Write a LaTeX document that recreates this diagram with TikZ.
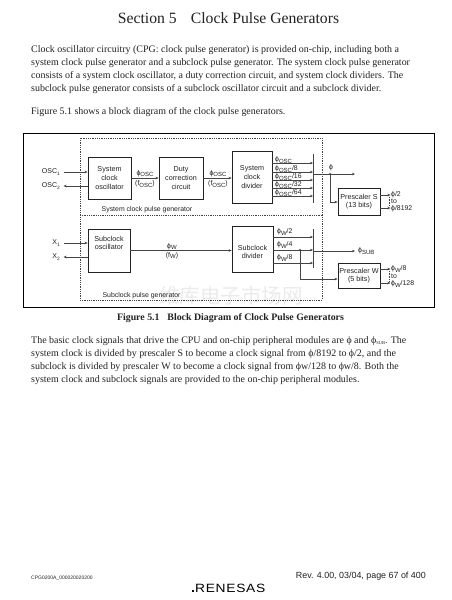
\documentclass[tikz,border=0pt]{standalone}
\usepackage{fontspec}
\setmainfont{Liberation Serif}
\setsansfont{Liberation Sans}
\newfontfamily\wmfont{Noto Sans CJK SC}
\usepackage{xcolor}
\usetikzlibrary{arrows.meta,positioning,calc}
\definecolor{ink}{HTML}{222222}
\definecolor{wire}{HTML}{444444}
\definecolor{wmark}{HTML}{EBEBEB}
\newcommand{\sbs}[1]{\raisebox{-0.5ex}{\fontsize{6}{7}\selectfont #1}}
\tikzset{
  blk/.style={draw=ink, line width=0.8pt, font=\sffamily\fontsize{7.2}{8.7}\selectfont, text=ink, align=center, inner sep=0pt},
  sig/.style={wire, line width=0.8pt, -{Stealth[length=3pt,width=2.6pt]}},
  lbl/.style={font=\sffamily\fontsize{6.9}{8}\selectfont, text=ink, inner sep=0pt},
  pin/.style={font=\sffamily\fontsize{7}{8}\selectfont, text=ink, inner sep=0pt},
  para/.style={font=\rmfamily\fontsize{9.95}{13}\selectfont, text=ink, inner sep=0pt, anchor=base west},
  guard/.style={densely dotted, line width=0.8pt, wire}
}
\begin{document}
\begin{tikzpicture}[x=1pt,y=-1pt]
  \useasboundingbox (0,0) rectangle (452,600);
  \fill[white] (0,0) rectangle (452,600);

  % Page text
  \node[font=\rmfamily\fontsize{15.7}{18}\selectfont, text=ink, inner sep=0pt] (title) at (228.5,18) {Section 5\hspace{0.9em}Clock Pulse Generators};
  \node[para] (intra) at (31,52.5) {Clock oscillator circuitry (CPG: clock pulse generator) is provided on-chip, including both a};
  \node[para] (intrb) at (31,65.5) {system clock pulse generator and a subclock pulse generator. The system clock pulse generator};
  \node[para] (intrc) at (31,78.5) {consists of a system clock oscillator, a duty correction circuit, and system clock dividers. The};
  \node[para] (intrd) at (31,91.5) {subclock pulse generator consists of a subclock oscillator circuit and a subclock divider.};
  \node[para] (intre) at (31,114.5) {Figure 5.1 shows a block diagram of the clock pulse generators.};

  % Frame and watermark
  \draw[black, line width=0.8pt] (23.5,133) rectangle (434,307);
  \node[font=\wmfont\fontsize{20.5}{21}\selectfont, text=wmark, inner sep=0pt] (wmark) at (231,296) {维库电子市场网};

  % Guard outlines
  \draw[guard] (80,138) rectangle (322,300);
  \draw[guard] (80,215) -- (322,215);
  \node[lbl] (sysgen) at (147,209.5) {System clock pulse generator};
  \node[lbl] (subgen) at (141.5,295.5) {Subclock pulse generator};

  % Blocks
  \node[blk, minimum width=43pt, minimum height=42pt] (sysosc) at (109.5,178) {System\\clock\\oscillator};
  \node[blk, minimum width=44pt, minimum height=42pt] (duty) at (181,178) {Duty\\correction\\circuit};
  \node[blk, minimum width=40pt, minimum height=52pt] (sysdiv) at (252,177) {System\\clock\\divider};
  \node[blk, minimum width=42pt, minimum height=43pt] (subosc) at (109,250.5) {};
  \node[blk, draw=none] (subosctxt) at (109,243) {Subclock\\oscillator};
  \node[blk, minimum width=41pt, minimum height=46pt] (subdiv) at (252.5,249) {};
  \node[blk, draw=none] (subdivtxt) at (252.5,252) {Subclock\\divider};
  \node[blk, minimum width=42pt, minimum height=27pt] (pres) at (359,201.5) {Prescaler S\\(13 bits)};
  \node[blk, minimum width=42pt, minimum height=25pt] (prew) at (359,275.5) {Prescaler W\\(5 bits)};

  % Inputs
  \node[pin, anchor=east] (oscone) at (60,172) {OSC\raisebox{-0.4ex}{\fontsize{4.8}{5}\selectfont 1}};
  \node[pin, anchor=east] (osctwo) at (60,186) {OSC\raisebox{-0.4ex}{\fontsize{4.8}{5}\selectfont 2}};
  \node[pin, anchor=east] (xone) at (60,243) {X\raisebox{-0.4ex}{\fontsize{4.8}{5}\selectfont 1}};
  \node[pin, anchor=east] (xtwo) at (60,257) {X\raisebox{-0.4ex}{\fontsize{4.8}{5}\selectfont 2}};
  \draw[sig] (oscone.east) ++(4,0) -- (oscone.east -| sysosc.west);
  \draw[sig] (osctwo.east -| sysosc.west) -- ++(-24,0);
  \draw[sig] (xone.east) ++(4,0) -- (xone.east -| subosc.west);
  \draw[sig] (xtwo.east -| subosc.west) -- ++(-24,0);

  % Chain
  \draw[sig] (sysosc.east) -- (duty.west);
  \draw[sig] (duty.east) -- (duty.east -| sysdiv.west);
  \draw[sig] (subosc.east) -- (subosc.east -| subdiv.west);
  \node[lbl] (phia) at (145,173.5) {ϕ\sbs{OSC}};
  \node[lbl] (fa) at (145,184) {(f\sbs{OSC})};
  \node[lbl] (phib) at (218,173.5) {ϕ\sbs{OSC}};
  \node[lbl] (fb) at (218,184) {(f\sbs{OSC})};
  \node[lbl] (phic) at (172,246.5) {ϕ\sbs{W}};
  \node[lbl] (fc) at (172,255.5) {(f\sbs{W})};

  % Bars
  \coordinate (bartop) at (313,154);
  \coordinate (barbot) at (313,203);
  \coordinate (bartopw) at (313,229);
  \coordinate (barbotw) at (313,268);
  \draw[wire, line width=0.9pt] (bartop) -- (barbot);
  \draw[wire, line width=0.9pt] (bartopw) -- (barbotw);

  % Divider outputs
  \foreach \yy/\nm/\txt in {163/a/,172/b/{/8},180/c/{/16},188/d/{/32},196/e/{/64}}{
    \coordinate (tap\nm) at (313,\yy);
    \draw[sig] (sysdiv.east |- tap\nm) -- (tap\nm);
    \node[lbl, anchor=south west] (sl\nm) at (275,\yy+1) {ϕ\sbs{OSC}\txt};
  }
  \foreach \yy/\nm/\txt in {237/a/{/2},250/b/{/4},263/c/{/8}}{
    \coordinate (wap\nm) at (313,\yy);
    \draw[sig] (subdiv.east |- wap\nm) -- (wap\nm);
    \node[lbl, anchor=south west] (wl\nm) at (277,\yy-1) {ϕ\sbs{W}\txt};
  }

  % Clock outputs
  \coordinate (phiend) at (355,174);
  \coordinate (subend) at (355,251);
  \coordinate (branchs) at (330,174);
  \coordinate (branchw) at (300,250);
  \draw[sig] (bartop |- phiend) -- (phiend);
  \draw[sig] (bartop |- subend) -- (subend);
  \draw[sig] (branchs) |- (pres.west |- 0,202);
  \draw[sig] (branchw) |- (prew.west |- 0,279);
  \fill[wire] (branchs) circle (1.1pt);
  \fill[wire] (branchw) circle (1.1pt);
  \node[lbl, anchor=west] (phiout) at (329,168) {ϕ};
  \node[lbl, anchor=west] (subout) at (358,251) {ϕ\sbs{SUB}};

  % Prescaler outputs
  \draw[sig] (pres.east |- 0,195) -- ++(10,0);
  \draw[sig] (pres.east |- 0,208) -- ++(10,0);
  \draw[sig] (prew.east |- 0,269) -- ++(10,0);
  \draw[sig] (prew.east |- 0,283) -- ++(10,0);
  \draw[wire, densely dotted, line width=0.6pt] (389,197) -- (389,206);
  \draw[wire, densely dotted, line width=0.6pt] (389,271) -- (389,281);
  \node[lbl, anchor=west] (sout) at (391,194.5) {ϕ/2};
  \node[lbl, anchor=west] (sto) at (391,201.5) {to};
  \node[lbl, anchor=west] (send) at (391,208.5) {ϕ/8192};
  \node[lbl, anchor=west] (wout) at (391,269) {ϕ\sbs{W}/8};
  \node[lbl, anchor=west] (wto) at (391,276) {to};
  \node[lbl, anchor=west] (wend) at (391,284) {ϕ\sbs{W}/128};

  % Caption and lower text
  \node[font=\rmfamily\bfseries\fontsize{9.85}{11}\selectfont, text=ink, inner sep=0pt] (capt) at (230.5,318) {Figure 5.1\hspace{0.8em}Block Diagram of Clock Pulse Generators};
  \node[para] (lowa) at (31,343.5) {The basic clock signals that drive the CPU and on-chip peripheral modules are ϕ and ϕ\raisebox{-0.3ex}{\fontsize{4.5}{5}\selectfont SUB}. The};
  \node[para] (lowb) at (31,356.5) {system clock is divided by prescaler S to become a clock signal from ϕ/8192 to ϕ/2, and the};
  \node[para] (lowc) at (31,369.5) {subclock is divided by prescaler W to become a clock signal from ϕw/128 to ϕw/8. Both the};
  \node[para] (lowd) at (31,382.5) {system clock and subclock signals are provided to the on-chip peripheral modules.};

  % Footer
  \node[font=\sffamily\fontsize{5}{6}\selectfont, text=ink, inner sep=0pt, anchor=west] (code) at (31,578) {CPG0200A\_000020020200};
  \node[font=\sffamily\fontsize{8.9}{10}\selectfont, text=ink, inner sep=0pt, anchor=east] (rev) at (426,576.5) {Rev. 4.00, 03/04, page 67 of 400};
  \node[font=\sffamily\fontsize{12}{14}\selectfont, text=black, inner sep=0pt, anchor=west] (logo) at (195,588) {\scalebox{1.15}[1]{\addfontfeature{LetterSpace=5}RENESAS}};
  \fill[black] (192,590) rectangle (194,592);
\end{tikzpicture}
\end{document}
